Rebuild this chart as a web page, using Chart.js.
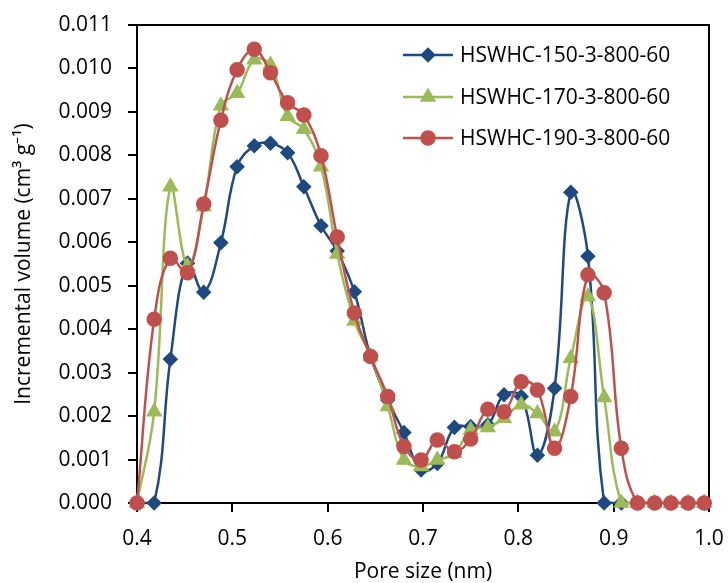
<!DOCTYPE html>
<html>
<head>
<meta charset="utf-8">
<script src="https://cdn.jsdelivr.net/npm/chart.js@4"></script>
<style>
  html, body { margin: 0; padding: 0; background: #fff; }
  #wrap { width: 728px; height: 583px; }
</style>
</head>
<body>
<div id="wrap"><canvas id="psdChart" width="728" height="583"></canvas></div>
<script>
// Pore size (nm)
const poreSize = [0.400, 0.418, 0.435, 0.453, 0.470, 0.488, 0.505, 0.523, 0.540, 0.558,
                  0.575, 0.593, 0.610, 0.628, 0.645, 0.663, 0.680, 0.698, 0.715, 0.733,
                  0.750, 0.768, 0.785, 0.803, 0.820, 0.838, 0.855, 0.873, 0.890, 0.908,
                  0.925, 0.943, 0.960, 0.978, 0.995];

// Incremental volume (cm3 g-1)
const hswhc150 = [0, 0, 0.00331, 0.00552, 0.00485, 0.00599, 0.00774, 0.00822, 0.00828, 0.00806,
                  0.00728, 0.00638, 0.00580, 0.00486, 0.00337, 0.00237, 0.00162, 0.00076, 0.00091, 0.00174,
                  0.00176, 0.00180, 0.00249, 0.00245, 0.00110, 0.00264, 0.00715, 0.00568, 0, 0,
                  0, 0, 0, 0, 0];
const hswhc170 = [0, 0.00210, 0.00728, 0.00545, 0.00682, 0.00914, 0.00943, 0.01020, 0.01008, 0.00890,
                  0.00860, 0.00774, 0.00573, 0.00419, 0.00337, 0.00222, 0.00099, 0.00084, 0.00099, 0.00114,
                  0.00168, 0.00174, 0.00195, 0.00226, 0.00206, 0.00164, 0.00333, 0.00475, 0.00243, 0,
                  0, 0, 0, 0, 0];
const hswhc190 = [0, 0.00423, 0.00563, 0.00530, 0.00688, 0.00881, 0.00997, 0.01044, 0.00990, 0.00921,
                  0.00893, 0.00799, 0.00612, 0.00437, 0.00337, 0.00245, 0.00130, 0.00099, 0.00145, 0.00118,
                  0.00147, 0.00216, 0.00210, 0.00279, 0.00260, 0.00126, 0.00245, 0.00525, 0.00484, 0.00126,
                  0, 0, 0, 0, 0];

const xTicks = [0.4, 0.5, 0.6, 0.7, 0.8, 0.9, 1.0];
const seriesNames = ['HSWHC-150-3-800-60', 'HSWHC-170-3-800-60', 'HSWHC-190-3-800-60'];

const toPoints = (ys) => ys.map((y, i) => ({ x: poreSize[i], y: y }));

const FONT = '"Open Sans", "Liberation Sans", sans-serif';
Chart.defaults.font.family = FONT;
Chart.defaults.color = '#000';

// frame on top and right of the plot area
const framePlugin = {
    id: 'frame',
    beforeDatasetsDraw(chart) {
        const { ctx, chartArea: a } = chart;
        ctx.save();
        ctx.strokeStyle = '#000';
        ctx.lineWidth = 2;
        ctx.beginPath();
        ctx.moveTo(a.left, a.top);
        ctx.lineTo(a.right, a.top);
        ctx.lineTo(a.right, a.bottom);
        ctx.stroke();
        ctx.restore();
    }
};

// legend drawn inside the plot, line + marker samples
const insideLegend = {
    id: 'insideLegend',
    afterDraw(chart) {
        const ctx = chart.ctx;
        const x0 = 403, x1 = 453, tx = 460;
        const rows = [55, 97, 138];
        ctx.save();
        chart.data.datasets.forEach((ds, i) => {
            const y = rows[i];
            ctx.strokeStyle = ds.borderColor;
            ctx.lineWidth = ds.borderWidth;
            ctx.beginPath();
            ctx.moveTo(x0, y);
            ctx.lineTo(x1, y);
            ctx.stroke();
            ctx.fillStyle = ds.pointBackgroundColor;
            ctx.strokeStyle = ds.pointBorderColor;
            Chart.helpers.drawPoint(ctx, {
                pointStyle: ds.pointStyle,
                radius: ds.pointRadius,
                rotation: 0,
                borderWidth: 1
            }, (x0 + x1) / 2, y);
            ctx.fillStyle = '#000';
            ctx.font = '21px ' + FONT;
            ctx.textBaseline = 'middle';
            ctx.textAlign = 'left';
            ctx.fillText(ds.label, tx, y + 1);
        });
        ctx.restore();
    }
};

const ctx = document.getElementById('psdChart').getContext('2d');
const psdChart = new Chart(ctx, {
    type: 'line',
    data: {
        datasets: [{
            label: seriesNames[0],
            data: toPoints(hswhc150),
            borderColor: '#1F4A7F',
            backgroundColor: '#1F4A7F',
            pointBackgroundColor: '#1F4A7F',
            pointBorderColor: '#1F4A7F',
            pointStyle: 'rectRot',
            pointRadius: 6,
            borderWidth: 2.5,
            tension: 0.4,
            order: 2,
            clip: false
        }, {
            label: seriesNames[1],
            data: toPoints(hswhc170),
            borderColor: '#9BBB59',
            backgroundColor: '#9BBB59',
            pointBackgroundColor: '#9BBB59',
            pointBorderColor: '#9BBB59',
            pointStyle: 'triangle',
            pointRadius: 7,
            borderWidth: 2.5,
            tension: 0.4,
            order: 1,
            clip: false
        }, {
            label: seriesNames[2],
            data: toPoints(hswhc190),
            borderColor: '#C0504D',
            backgroundColor: '#C0504D',
            pointBackgroundColor: '#C0504D',
            pointBorderColor: '#C0504D',
            pointStyle: 'circle',
            pointRadius: 6.5,
            borderWidth: 2.5,
            tension: 0.4,
            order: 0,
            clip: false
        }]
    },
    options: {
        responsive: false,
        animation: false,
        layout: {
            padding: { top: 25, right: 19, left: 0, bottom: 0 }
        },
        scales: {
            x: {
                type: 'linear',
                min: 0.4,
                max: 1.0,
                afterBuildTicks: (scale) => { scale.ticks = xTicks.map(v => ({ value: v })); },
                afterFit: (scale) => {
                    scale.height = 80;
                    scale.paddingLeft = 0;
                    scale.paddingRight = 0;
                },
                ticks: {
                    font: { size: 21 },
                    color: '#000',
                    padding: 14,
                    maxRotation: 0,
                    callback: (v) => v.toFixed(1)
                },
                grid: {
                    drawOnChartArea: false,
                    drawTicks: true,
                    tickLength: 9,
                    color: '#000',
                    lineWidth: 2
                },
                border: { display: true, color: '#000', width: 2 },
                title: {
                    display: true,
                    text: 'Pore size (nm)',
                    font: { size: 21 },
                    color: '#000',
                    padding: { top: 0, bottom: -2 }
                }
            },
            y: {
                min: 0,
                max: 0.011,
                afterFit: (scale) => {
                    scale.width = 137;
                    scale.paddingTop = 0;
                    scale.paddingBottom = 0;
                },
                ticks: {
                    stepSize: 0.001,
                    font: { size: 21 },
                    color: '#000',
                    padding: 16,
                    callback: (v) => v.toFixed(3)
                },
                grid: {
                    drawOnChartArea: false,
                    drawTicks: true,
                    tickLength: 9,
                    color: '#000',
                    lineWidth: 2
                },
                border: { display: true, color: '#000', width: 2 },
                title: {
                    display: true,
                    text: 'Incremental volume (cm³ g⁻¹)',
                    font: { size: 21 },
                    color: '#000',
                    padding: { top: 11, bottom: 0 }
                }
            }
        },
        plugins: {
            legend: { display: false },
            tooltip: { enabled: false }
        }
    },
    plugins: [framePlugin, insideLegend]
});
</script>
</body>
</html>
